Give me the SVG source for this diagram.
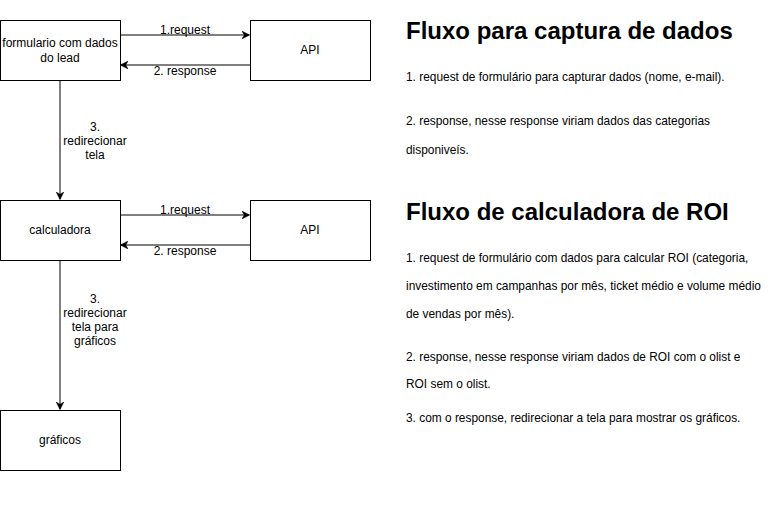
<svg xmlns="http://www.w3.org/2000/svg" width="771" height="511" viewBox="0 0 771 511">
<style>
.box{fill:#fff;stroke:#000;stroke-width:1}
.t{font-family:"Liberation Sans",Arial,sans-serif;font-size:12px;fill:#000;text-anchor:middle}
.b{font-family:"Liberation Sans",Arial,sans-serif;font-size:11.9px;fill:#000}
.h{font-family:"Liberation Sans",Arial,sans-serif;font-size:24px;font-weight:bold;fill:#000}
.c{fill:none;stroke:#000;stroke-width:1}
</style>
<defs>
<marker id="arr" viewBox="0 0 10 10" refX="9" refY="5" markerWidth="8" markerHeight="8" markerUnits="userSpaceOnUse" orient="auto">
<path d="M0,0 L10,5 L0,10 L3,5 Z" fill="#000" stroke="#000" stroke-width="0.5"/>
</marker>
</defs>
<rect width="771" height="511" fill="#fff"/>
<g id="connectors">
<path class="c" d="M120,35 H249" marker-end="url(#arr)"/>
<path class="c" d="M250,65 H121" marker-end="url(#arr)"/>
<path class="c" d="M60,80 V199" marker-end="url(#arr)"/>
<path class="c" d="M120,215 H249" marker-end="url(#arr)"/>
<path class="c" d="M250,245 H121" marker-end="url(#arr)"/>
<path class="c" d="M60,260 V409" marker-end="url(#arr)"/>
<text class="t" x="185" y="34">1.request</text>
<text class="t" x="185" y="75">2. response</text>
<text class="t" x="95" y="131">3.</text>
<text class="t" x="95" y="145">redirecionar</text>
<text class="t" x="95" y="159">tela</text>
<text class="t" x="185" y="214">1.request</text>
<text class="t" x="185" y="255">2. response</text>
<text class="t" x="95" y="303">3.</text>
<text class="t" x="95" y="317">redirecionar</text>
<text class="t" x="95" y="331">tela para</text>
<text class="t" x="95" y="345">gráficos</text>
</g>
<g id="form">
<rect class="box" x="0.5" y="20.5" width="120" height="60"/>
<text class="t" x="60" y="47">formulario com dados</text>
<text class="t" x="60" y="62">do lead</text>
</g>
<g id="api1">
<rect class="box" x="250.5" y="20.5" width="120" height="60"/>
<text class="t" x="310" y="54">API</text>
</g>
<g id="calc">
<rect class="box" x="0.5" y="200.5" width="120" height="60"/>
<text class="t" x="60" y="234">calculadora</text>
</g>
<g id="api2">
<rect class="box" x="250.5" y="200.5" width="120" height="60"/>
<text class="t" x="310" y="234">API</text>
</g>
<g id="graficos">
<rect class="box" x="0.5" y="410.5" width="120" height="60"/>
<text class="t" x="60" y="444">gráficos</text>
</g>
<g id="notes">
<text class="h" x="406" y="39">Fluxo para captura de dados</text>
<text class="b" x="406" y="81">1. request de formulário para capturar dados (nome, e-mail).</text>
<text class="b" x="406" y="125">2. response, nesse response viriam dados das categorias</text>
<text class="b" x="406" y="154">disponiveís.</text>
<text class="h" x="406" y="220">Fluxo de calculadora de ROI</text>
<text class="b" x="406" y="262">1. request de formulário com dados para calcular ROI (categoria,</text>
<text class="b" x="406" y="290">investimento em campanhas por mês, ticket médio e volume médio</text>
<text class="b" x="406" y="318">de vendas por mês).</text>
<text class="b" x="406" y="361">2. response, nesse response viriam dados de ROI com o olist e</text>
<text class="b" x="406" y="388">ROI sem o olist.</text>
<text class="b" x="406" y="422">3. com o response, redirecionar a tela para mostrar os gráficos.</text>
</g>
</svg>
